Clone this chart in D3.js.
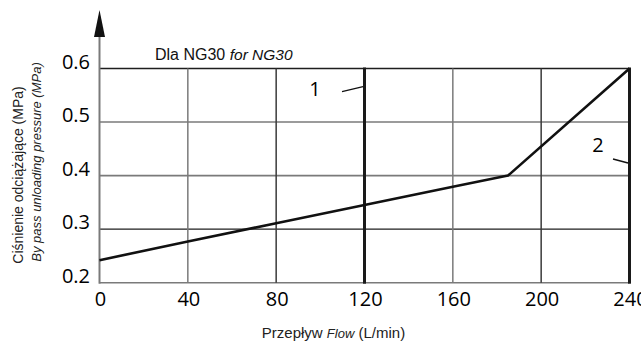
<!DOCTYPE html>
<html>
<head>
<meta charset="utf-8">
<script src="https://cdn.jsdelivr.net/npm/d3@7"></script>
<style>
  html, body { margin: 0; padding: 0; background: #fff; }
  svg { display: block; }
</style>
</head>
<body>
<svg id="chart" width="641" height="343"></svg>
<script>
// Flow (L/min) against by-pass unloading pressure (MPa), NG30
const flowTicks = [0, 40, 80, 120, 160, 200, 240];
const pressureTicks = [0.2, 0.3, 0.4, 0.5, 0.6];
const curveFlow = [0, 40, 80, 120, 160, 185, 240];
const curvePressure = [0.242, 0.277, 0.311, 0.345, 0.379, 0.400, 0.600];
// Vertical limit lines and their callout numbers
const limitFlow = [120, 240];
const limitLabels = ["1", "2"];
// Shade of each grid line (dark or light)
const hGridDark = [false, true, false, false, true];   // 0.2 .. 0.6
const vGridDark = [false, false, true, false, false, true, false]; // 0 .. 240

const svg = d3.select("#chart");
const x = d3.scaleLinear().domain([0, 240]).range([99.5, 629.5]);
const y = d3.scaleLinear().domain([0.2, 0.6]).range([282.7, 68.5]);

const light = "#7a7a7a", dark = "#1e1e1e";

// Horizontal grid
svg.append("g").selectAll("line").data(pressureTicks).join("line")
  .attr("x1", x(0)).attr("x2", x(240))
  .attr("y1", d => y(d)).attr("y2", d => y(d))
  .attr("stroke", (d, i) => hGridDark[i] ? dark : light)
  .attr("stroke-width", (d, i) => hGridDark[i] ? 1.3 : 1.6);

// Vertical grid
svg.append("g").selectAll("line").data(flowTicks.filter(d => d > 0 && !limitFlow.includes(d))).join("line")
  .attr("x1", d => x(d)).attr("x2", d => x(d))
  .attr("y1", y(0.6)).attr("y2", y(0.2))
  .attr("stroke", d => vGridDark[flowTicks.indexOf(d)] ? "#3a3a3a" : light)
  .attr("stroke-width", 1.5);

// Limit lines
svg.append("g").selectAll("line").data(limitFlow).join("line")
  .attr("x1", d => x(d)).attr("x2", d => x(d))
  .attr("y1", y(0.6) - 1).attr("y2", y(0.2) + 1)
  .attr("stroke", "#1a1a1a").attr("stroke-width", 3);

// Y axis line with arrow
svg.append("line")
  .attr("x1", x(0)).attr("x2", x(0))
  .attr("y1", 36).attr("y2", y(0.2) + 1)
  .attr("stroke", light).attr("stroke-width", 2);
svg.append("path")
  .attr("d", `M${x(0)},10 L${x(0) + 5.5},37 L${x(0) - 5.5},37 Z`)
  .attr("fill", "#111");

// Curve
const line = d3.line().x(d => x(d[0])).y(d => y(d[1]));
svg.append("path")
  .datum(d3.zip(curveFlow, curvePressure))
  .attr("d", line)
  .attr("fill", "none").attr("stroke", "#111").attr("stroke-width", 2.6)
  .attr("stroke-linejoin", "round");

// Tick labels
const tickFont = "'Open Sans', 'DejaVu Sans', sans-serif";
svg.append("g").selectAll("text").data(pressureTicks).join("text")
  .attr("x", 90).attr("y", d => y(d))
  .attr("text-anchor", "end")
  .attr("font-family", tickFont).attr("font-size", 20).attr("font-weight", 500).attr("fill", "#000")
  .text(d => d3.format(".1f")(d));
svg.append("g").selectAll("text").data(flowTicks).join("text")
  .attr("x", d => x(d) + 1).attr("y", 306)
  .attr("text-anchor", "middle")
  .attr("font-family", tickFont).attr("font-size", 20).attr("font-weight", 500).attr("fill", "#000")
  .text(d => d);

// Callouts for limit lines
const calloutPos = [
  { tx: 315, ty: 96, x1: 342, y1: 91.7, dy: -5 },
  { tx: 598, ty: 152, x1: 613, y1: 159, dy: 4 }
];
limitFlow.forEach((f, i) => {
  const c = calloutPos[i];
  svg.append("text").attr("x", c.tx).attr("y", c.ty)
    .attr("text-anchor", "middle")
    .attr("font-family", tickFont).attr("font-size", 20).attr("font-weight", 500).attr("fill", "#000")
    .text(limitLabels[i]);
  svg.append("line")
    .attr("x1", c.x1).attr("y1", c.y1)
    .attr("x2", x(f) - 1.5).attr("y2", c.y1 + c.dy)
    .attr("stroke", "#111").attr("stroke-width", 1.3);
});

const sans = "'Liberation Sans', Arial, sans-serif";

// Title
const title = svg.append("text").attr("x", 155).attr("y", 60)
  .attr("font-family", sans).attr("font-size", 16).attr("fill", "#111");
title.append("tspan").text("Dla NG30 ");
title.append("tspan").attr("font-style", "italic").attr("font-size", 15.5).text("for NG30");

// X axis title
const xt = svg.append("text").attr("x", 333.5).attr("y", 338)
  .attr("text-anchor", "middle")
  .attr("font-family", sans).attr("font-size", 15).attr("fill", "#222");
xt.append("tspan").text("Przepływ ");
xt.append("tspan").attr("font-style", "italic").attr("font-size", 13).text("Flow");
xt.append("tspan").text(" (L/min)");

// Y axis titles
svg.append("text")
  .attr("transform", "translate(23,175) rotate(-90)")
  .attr("text-anchor", "middle")
  .attr("font-family", sans).attr("font-size", 14).attr("fill", "#222")
  .text("Ciśnienie odciążające (MPa)");
svg.append("text")
  .attr("transform", "translate(41,162) rotate(-90)")
  .attr("text-anchor", "middle")
  .attr("font-family", sans).attr("font-size", 13).attr("font-style", "italic").attr("fill", "#222")
  .text("By pass unloading pressure (MPa)");
</script>
</body>
</html>
